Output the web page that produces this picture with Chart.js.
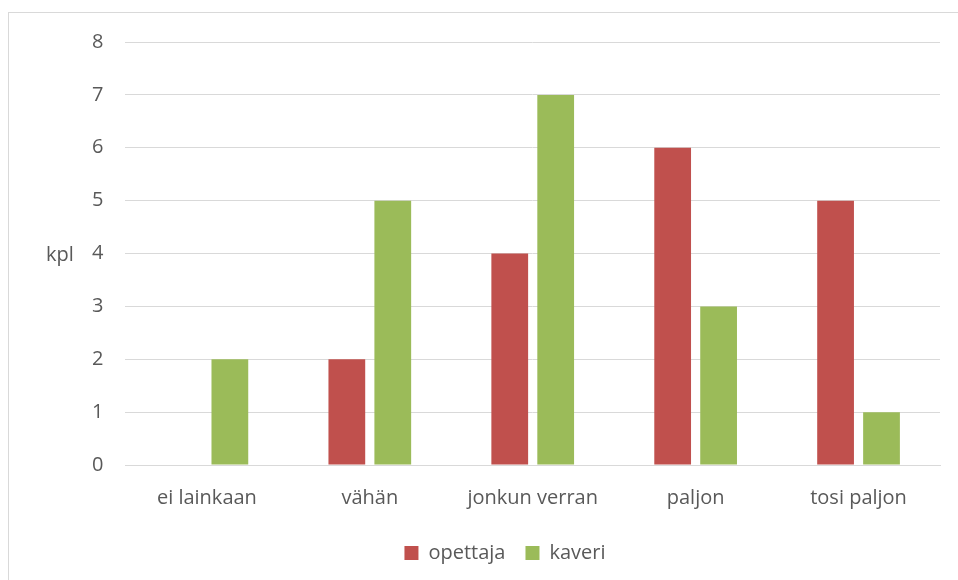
<!DOCTYPE html>
<html>
<head>
<meta charset="utf-8">
<script src="https://cdn.jsdelivr.net/npm/chart.js@4"></script>
<style>
  html, body { margin: 0; padding: 0; background: #fff; }
  .chart-box { position: relative; width: 958px; height: 580px; overflow: hidden; }
  .chart-frame { position: absolute; left: 8px; top: 12px; width: 960px; height: 580px; border: 1px solid #d9d9d9; box-sizing: border-box; }
  .y-title { position: absolute; left: 46px; top: 240px; font: 20px "Open Sans", sans-serif; color: #595959; }
</style>
</head>
<body>
<div class="chart-box">
  <div class="chart-frame"></div>
  <div class="y-title">kpl</div>
  <canvas id="myChart" width="958" height="580"></canvas>
</div>
<script>
const categories = ["ei lainkaan", "vähän", "jonkun verran", "paljon", "tosi paljon"];
const opettaja = [0, 2, 4, 6, 5];
const kaveri = [2, 5, 7, 3, 1];

const font = { family: "'Open Sans', sans-serif", size: 20 };
const textColor = "#595959";

const ctx = document.getElementById('myChart').getContext('2d');
new Chart(ctx, {
  type: "bar",
  data: {
    labels: categories,
    datasets: [
      { label: "opettaja", data: opettaja, backgroundColor: "#C0504D" },
      { label: "kaveri", data: kaveri, backgroundColor: "#9BBB59" }
    ]
  },
  options: {
    responsive: false,
    animation: false,
    layout: { padding: { left: 70, right: 18, top: 42, bottom: 7 } },
    datasets: { bar: { categoryPercentage: 0.564, barPercentage: 0.8 } },
    plugins: {
      tooltip: { enabled: false },
      legend: {
        position: "bottom",
        labels: {
          font: font,
          color: textColor,
          boxWidth: 14,
          boxHeight: 14,
          padding: 20,
        },
      },
    },
    scales: {
      x: {
        grid: { display: false },
        border: { color: "#d9d9d9", width: 1 },
        ticks: { font: font, color: textColor, padding: 13 },
      },
      y: {
        min: 0,
        max: 8,
        border: { display: false },
        grid: { color: "#d9d9d9", drawTicks: false },
        ticks: { stepSize: 1, font: font, color: textColor, padding: 22 },
      },
    },
  },
});
</script>
</body>
</html>
